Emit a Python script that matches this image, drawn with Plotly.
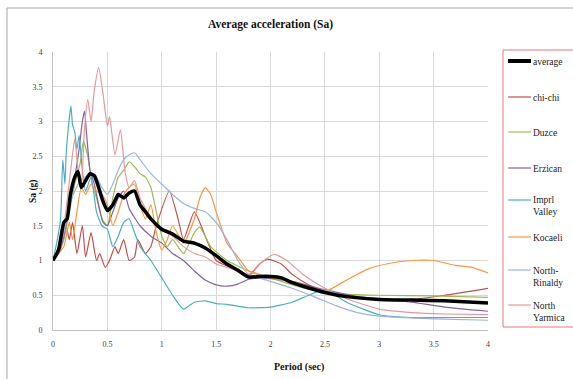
import plotly.graph_objects as go

# Period (sec) and spectral acceleration Sa (g) for each record
avg_T = [0, 0.05, 0.1, 0.13, 0.16, 0.2, 0.23, 0.26, 0.3, 0.34, 0.38, 0.42, 0.46, 0.5, 0.55, 0.6,
         0.65, 0.7, 0.75, 0.8, 0.85, 0.9, 1.0, 1.1, 1.2, 1.3, 1.4, 1.5, 1.6, 1.7, 1.8, 1.9, 2.0,
         2.1, 2.2, 2.3, 2.5, 2.7, 3.0, 3.3, 3.6, 4.0]
avg_Sa = [1.0, 1.15, 1.55, 1.6, 1.95, 2.2, 2.28, 2.05, 2.15, 2.25, 2.22, 2.05, 1.85, 1.72, 1.8, 1.95,
          1.9, 1.97, 2.0, 1.8, 1.7, 1.6, 1.45, 1.38, 1.28, 1.25, 1.18, 1.07, 0.95, 0.86, 0.76, 0.77, 0.77,
          0.75, 0.68, 0.63, 0.54, 0.48, 0.44, 0.43, 0.42, 0.39]

chichi_T = [0, 0.05, 0.12, 0.15, 0.18, 0.22, 0.27, 0.3, 0.35, 0.4, 0.43, 0.48, 0.52, 0.57, 0.6, 0.65,
            0.7, 0.75, 0.78, 0.85, 0.9, 0.95, 1.07, 1.15, 1.2, 1.3, 1.4, 1.5, 1.6, 1.7, 1.8, 1.9, 1.97,
            2.1, 2.2, 2.35, 2.5, 2.8, 3.0, 3.3, 3.6, 4.0]
chichi_Sa = [1.0, 1.1, 1.5, 1.3, 1.55, 1.1, 1.5, 1.05, 1.4, 1.0, 1.1, 0.9, 1.0, 1.2, 1.1, 1.3,
             1.0, 1.05, 1.3, 1.1, 1.2, 1.5, 2.0, 1.6, 1.3, 1.7, 1.35, 1.0, 0.92, 0.85, 0.78, 0.95, 1.02,
             0.95, 0.8, 0.65, 0.55, 0.47, 0.45, 0.44, 0.5, 0.6]

duzce_T = [0, 0.05, 0.1, 0.15, 0.2, 0.25, 0.28, 0.32, 0.36, 0.4, 0.45, 0.5, 0.55, 0.6, 0.65, 0.7,
           0.75, 0.8, 0.85, 0.9, 0.95, 1.0, 1.05, 1.1, 1.2, 1.3, 1.35, 1.45, 1.6, 1.8, 2.0, 2.2, 2.4,
           2.6, 3.0, 3.5, 4.0]
duzce_Sa = [1.0, 1.1, 1.3, 1.7, 2.1, 2.4, 2.72, 2.5, 2.1, 1.9, 1.6, 1.5, 1.9, 2.2, 2.3, 2.42,
            2.35, 2.25, 2.2, 2.05, 1.7, 1.35, 1.2, 1.3, 1.1, 1.4, 1.48, 1.2, 1.0, 0.85, 0.75, 0.65, 0.57,
            0.52, 0.5, 0.49, 0.47]

erzican_T = [0, 0.05, 0.1, 0.15, 0.2, 0.24, 0.27, 0.29, 0.31, 0.34, 0.38, 0.42, 0.46, 0.5, 0.55, 0.6,
             0.65, 0.7, 0.8, 0.9, 1.0, 1.1, 1.2, 1.3, 1.4, 1.5, 1.6, 1.7, 1.8, 1.9, 2.0, 2.2, 2.5, 2.8,
             3.0, 3.3, 3.6, 4.0]
erzican_Sa = [1.0, 1.1, 1.35, 1.8, 2.2, 2.6, 3.0, 3.15, 2.8, 2.3, 2.1, 1.8, 1.55, 1.5, 1.7, 1.9,
              2.0, 1.75, 1.5, 1.35, 1.25, 1.1, 1.0, 0.85, 0.72, 0.65, 0.63, 0.66, 0.73, 0.75, 0.74, 0.7,
              0.58, 0.48, 0.45, 0.4, 0.33, 0.27]

imprl_T = [0, 0.04, 0.07, 0.09, 0.11, 0.12, 0.14, 0.165, 0.18, 0.2, 0.22, 0.24, 0.27, 0.3, 0.35, 0.4,
           0.45, 0.5, 0.55, 0.6, 0.65, 0.7, 0.75, 0.8, 0.9, 1.0, 1.1, 1.2, 1.3, 1.4, 1.5, 1.6, 1.8,
           2.0, 2.2, 2.35, 2.5, 2.7, 3.0, 3.3, 3.6, 4.0]
imprl_Sa = [1.0, 1.3, 1.6, 2.45, 2.1, 2.5, 2.9, 3.22, 2.95, 2.85, 2.6, 2.8, 2.3, 2.0, 2.2, 1.7,
            1.5, 1.45, 1.2, 1.35, 1.55, 1.6, 1.4, 1.2, 1.0, 0.75, 0.5, 0.3, 0.4, 0.42, 0.38, 0.37, 0.32,
            0.33, 0.4, 0.5, 0.58, 0.4, 0.22, 0.18, 0.18, 0.18]

kocaeli_T = [0, 0.05, 0.1, 0.15, 0.18, 0.22, 0.26, 0.3, 0.35, 0.4, 0.45, 0.5, 0.55, 0.6, 0.65, 0.7,
             0.75, 0.8, 0.85, 0.9, 0.95, 1.0, 1.05, 1.1, 1.2, 1.3, 1.35, 1.4, 1.45, 1.5, 1.6, 1.7,
             1.8, 2.0, 2.2, 2.4, 2.5, 2.7, 2.9, 3.1, 3.3, 3.5, 3.7, 3.85, 4.0]
kocaeli_Sa = [1.0, 1.1, 1.2, 1.55, 1.3, 1.7, 2.05, 1.95, 2.1, 2.0, 1.95, 1.8, 1.5, 1.7, 1.95, 2.05,
              2.1, 1.8, 1.6, 1.8, 1.4, 1.15, 1.3, 1.5, 1.25, 1.6, 1.9, 2.05, 1.95, 1.7, 1.25, 1.05,
              0.85, 0.75, 0.7, 0.6, 0.55, 0.72, 0.88, 0.96, 1.0, 1.0, 0.93, 0.9, 0.82]

rinaldy_T = [0, 0.05, 0.1, 0.15, 0.2, 0.25, 0.3, 0.35, 0.4, 0.45, 0.5, 0.55, 0.6, 0.65, 0.7, 0.75,
             0.8, 0.9, 1.0, 1.1, 1.2, 1.3, 1.4, 1.5, 1.6, 1.7, 1.8, 2.0, 2.2, 2.4, 2.6, 2.8, 3.0,
             3.5, 4.0]
rinaldy_Sa = [1.0, 1.15, 1.4, 1.8, 2.0, 2.15, 2.2, 2.25, 2.2, 2.05, 1.95, 2.1, 2.3, 2.45, 2.52, 2.55,
              2.45, 2.25, 2.1, 1.95, 1.82, 1.75, 1.7, 1.55, 1.3, 1.0, 0.8, 0.7, 0.6, 0.48, 0.35, 0.25,
              0.2, 0.16, 0.14]

yarmica_T = [0, 0.05, 0.1, 0.14, 0.17, 0.2, 0.23, 0.26, 0.29, 0.32, 0.35, 0.38, 0.42, 0.46, 0.5, 0.52,
             0.57, 0.62, 0.66, 0.7, 0.75, 0.8, 0.85, 0.9, 1.0, 1.1, 1.2, 1.3, 1.4, 1.5, 1.6, 1.7,
             1.8, 1.9, 2.03, 2.15, 2.3, 2.5, 2.7, 3.0, 3.3, 3.6, 4.0]
yarmica_Sa = [1.0, 1.2, 1.5, 2.0, 2.4, 2.75, 2.3, 2.05, 2.9, 3.32, 3.0, 3.45, 3.78, 3.4, 2.93, 3.07,
              2.52, 2.88, 2.3, 2.05, 2.15, 1.9, 1.75, 1.6, 1.45, 1.35, 1.2, 1.1, 1.05, 0.95, 0.9, 0.85,
              0.8, 0.95, 1.09, 1.0, 0.8, 0.6, 0.45, 0.3, 0.25, 0.23, 0.22]

names = ["average", "chi-chi", "Duzce", "Erzican", "Imprl<br>Valley", "Kocaeli",
         "North-<br>Rinaldy", "North<br>Yarmica"]
periods = [avg_T, chichi_T, duzce_T, erzican_T, imprl_T, kocaeli_T, rinaldy_T, yarmica_T]
accels = [avg_Sa, chichi_Sa, duzce_Sa, erzican_Sa, imprl_Sa, kocaeli_Sa, rinaldy_Sa, yarmica_Sa]
colors = ["#000000", "#c0504d", "#9bbb59", "#8064a2", "#4bacc6", "#f79646", "#9db3de", "#e49a9a"]
widths = [3.5, 1.2, 1.2, 1.2, 1.2, 1.2, 1.2, 1.2]

SERIF = "Liberation Serif, Times New Roman, serif"

fig = go.Figure()
# draw records first, the average on top
order = [1, 2, 3, 4, 5, 6, 7, 0]
for i in order:
    fig.add_trace(go.Scatter(
        x=periods[i], y=accels[i], mode="lines", name=names[i].replace("<br>", " "),
        line=dict(color=colors[i], width=widths[i], shape="spline", smoothing=0.5),
        showlegend=False, hoverinfo="skip"))

# plot area in pixels: x 53..488, y 52..330
L, R, T, B = 53, 488, 52, 330
W, H = 573, 379


def px(x):
    return (x - L) / (R - L)


def py(y):
    return (B - y) / (B - T)


shapes = []
annotations = []

# outer chart frame
shapes.append(dict(type="rect", xref="paper", yref="paper",
                   x0=px(7), x1=px(600), y0=py(8), y1=py(400),
                   line=dict(color="#a6a6a6", width=1), fillcolor="rgba(0,0,0,0)", layer="below"))

# legend box
shapes.append(dict(type="rect", xref="paper", yref="paper",
                   x0=px(503), x1=px(590), y0=py(50), y1=py(327),
                   line=dict(color="#e27b7b", width=1), fillcolor="rgba(0,0,0,0)"))

legend_y = [61, 97, 132, 168, 200, 237, 270, 305]
for i, ly in enumerate(legend_y):
    shapes.append(dict(type="line", xref="paper", yref="paper",
                       x0=px(508), x1=px(531), y0=py(ly), y1=py(ly),
                       line=dict(color=colors[i], width=4 if i == 0 else 1.2)))
    annotations.append(dict(xref="paper", yref="paper", x=px(531), y=py(ly - 6.5),
                            xanchor="left", yanchor="top", align="left", showarrow=False,
                            text=names[i], font=dict(family=SERIF, size=9.5, color="#222222")))

# chart title and axis titles
annotations.append(dict(xref="paper", yref="paper", x=0.5, y=py(25), xanchor="center",
                        yanchor="middle", showarrow=False, text="<b>Average acceleration (Sa)</b>",
                        font=dict(family=SERIF, size=11.5, color="#111111")))
annotations.append(dict(xref="paper", yref="paper", x=px(33), y=py(191), xanchor="center",
                        yanchor="middle", showarrow=False, text="<b>Sa (g)</b>", textangle=-90,
                        font=dict(family=SERIF, size=9.5, color="#111111")))
annotations.append(dict(xref="paper", yref="paper", x=px(299), y=py(367), xanchor="center",
                        yanchor="middle", showarrow=False, text="<b>Period (sec)</b>",
                        font=dict(family=SERIF, size=10, color="#111111")))

tick_vals = [0, 0.5, 1, 1.5, 2, 2.5, 3, 3.5, 4]
tick_text = ["0", "0.5", "1", "1.5", "2", "2.5", "3", "3.5", "4"]

axis_common = dict(
    range=[0, 4], tickvals=tick_vals, ticktext=tick_text, showgrid=True,
    gridcolor="#d9d9d9", gridwidth=1, zeroline=False, showline=True, linecolor="#bfbfbf",
    linewidth=1, ticks="", tickfont=dict(family=SERIF, size=8, color="#404040"),
)

fig.update_layout(
    width=W, height=H,
    margin=dict(l=L, r=W - R, t=T, b=H - B),
    paper_bgcolor="white", plot_bgcolor="white",
    xaxis=dict(**axis_common, ticklabelstandoff=6),
    yaxis=dict(**axis_common, ticklabelstandoff=8),
    shapes=shapes, annotations=annotations, showlegend=False,
)

fig.write_html("out.html")
